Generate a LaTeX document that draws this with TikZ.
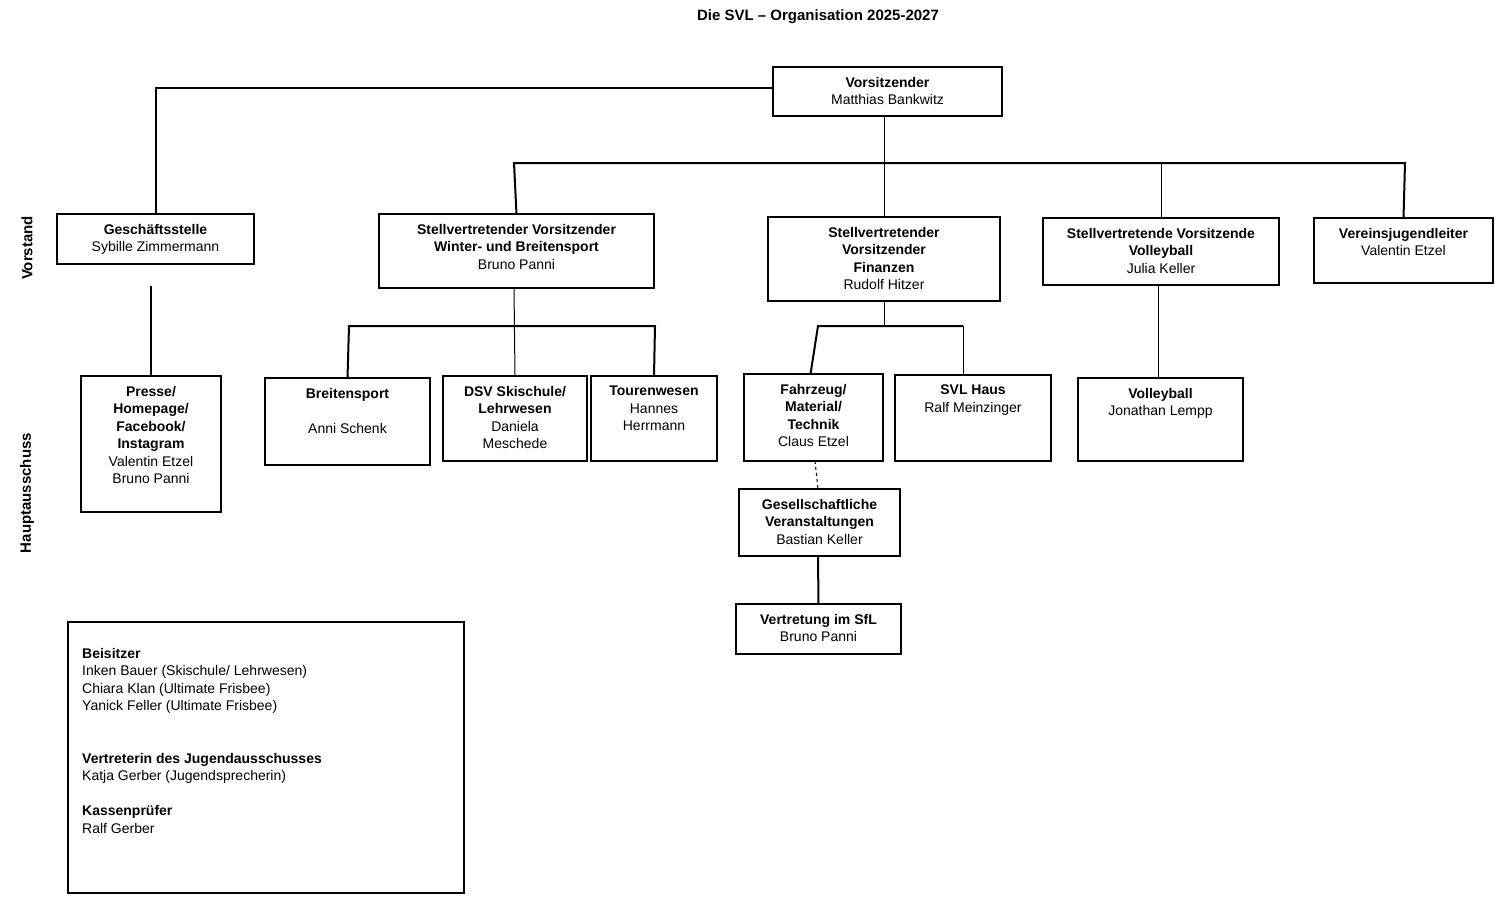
\documentclass[tikz,border=0pt]{standalone}
\usepackage{fontspec}
\setmainfont{Liberation Sans}
\begin{document}
\begin{tikzpicture}[x=1pt,y=-1pt,
  box/.style={draw,line width=1.3pt,inner sep=0pt},
  txt/.style={anchor=north,align=center,font=\fontsize{14}{17.5}\selectfont,inner sep=0pt},
  thick line/.style={line width=2pt},
  thin line/.style={line width=1pt}]
\useasboundingbox (0,0) rectangle (1500,900);
\newcommand{\bx}[6]{%
  \path[box] (#2,#3) rectangle (#4,#5);
  \coordinate (#1) at ({(#2+#4)/2},#3);
  \node[txt] (#1t) at ({(#2+#4)/2},#3+10) {#6};}
\node[font=\fontsize{15}{18}\selectfont\bfseries] (title) at (818,17) {Die SVL -- Organisation 2025-2027};
\node[rotate=90,font=\fontsize{15}{18}\selectfont\bfseries] (vs) at (27,248) {Vorstand};
\node[rotate=90,font=\fontsize{15}{18}\selectfont\bfseries] (ha) at (27,493) {Hauptausschuss};
\bx{vor}{773}{67}{1002}{116}{\textbf{Vorsitzender}\\Matthias Bankwitz}
\bx{ges}{57}{214}{254}{264}{\textbf{Geschäftsstelle}\\Sybille Zimmermann}
\bx{win}{379}{214}{654}{288}{\textbf{Stellvertretender Vorsitzender}\\\textbf{Winter- und Breitensport}\\Bruno Panni}
\bx{fin}{768}{217}{1000}{301}{\textbf{Stellvertretender}\\\textbf{Vorsitzender}\\\textbf{Finanzen}\\Rudolf Hitzer}
\bx{vol}{1043}{218}{1279}{285}{\textbf{Stellvertretende Vorsitzende}\\\textbf{Volleyball}\\Julia Keller}
\bx{jug}{1314}{218}{1493}{283}{\textbf{Vereinsjugendleiter}\\Valentin Etzel}
\bx{pre}{81}{376}{221}{512}{\textbf{Presse/}\\\textbf{Homepage/}\\\textbf{Facebook/}\\\textbf{Instagram}\\Valentin Etzel\\Bruno Panni}
\bx{bre}{265}{378}{430}{465}{\textbf{Breitensport}\\[17.5pt]Anni Schenk}
\bx{dsv}{443}{376}{587}{461}{\textbf{DSV Skischule/}\\\textbf{Lehrwesen}\\Daniela\\Meschede}
\bx{tou}{591}{376}{717}{461}{\textbf{Tourenwesen}\\Hannes\\Herrmann}
\bx{fah}{744}{374}{883}{461}{\textbf{Fahrzeug/}\\\textbf{Material/}\\\textbf{Technik}\\Claus Etzel}
\bx{hau}{895}{375}{1051}{461}{\textbf{SVL Haus}\\Ralf Meinzinger}
\bx{vob}{1078}{378}{1243}{461}{\textbf{Volleyball}\\Jonathan Lempp}
\bx{gsv}{739}{489}{900}{556}{\textbf{Gesellschaftliche}\\\textbf{Veranstaltungen}\\Bastian Keller}
\bx{sfl}{736}{604}{901}{654}{\textbf{Vertretung im SfL}\\Bruno Panni}
\path[box] (68,622) rectangle (464,893);
\node[anchor=north west,align=left,font=\fontsize{14}{17.5}\selectfont,inner sep=0pt] (bei) at (82,648)
 {\textbf{Beisitzer}\\Inken Bauer (Skischule/ Lehrwesen)\\Chiara Klan (Ultimate Frisbee)\\Yanick Feller (Ultimate Frisbee)\\[35pt]
  \textbf{Vertreterin des Jugendausschusses}\\Katja Gerber (Jugendsprecherin)\\[17.5pt]
  \textbf{Kassenprüfer}\\Ralf Gerber};
% connectors
\coordinate (g1) at (151,286);
\draw[thick line] (773,88) -| (ges);
\draw[thick line] (g1) -- (pre);
\draw[thin line] (884,116) -- (fin);
\draw[thick line] (win) -- (514,163) -- (1405,163) -- (jug);
\draw[thin line] (vol |- 0,163) -- (vol);
\draw[thin line] (514,288) -- (dsv);
\draw[thick line] (bre) -- (349,326) -- (655,326) -- (tou);
\draw[thin line] (884,301) -- (884,326);
\draw[thick line] (fah) ++(-3,0) -- (818,326) -- (963,326);
\draw[thin line] (963,326) -- (963,375);
\draw[thin line] (1158,285) -- (1158,378);
\draw[thin line,dashed] (815,461) -- (818,489);
\draw[thick line] (818,556) -- (sfl);
\end{tikzpicture}
\end{document}
